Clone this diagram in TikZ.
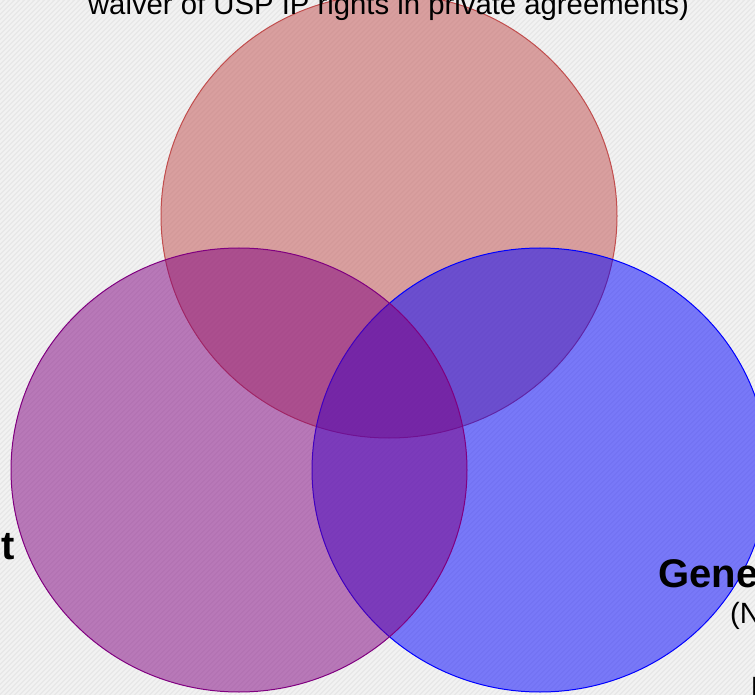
\documentclass[tikz,border=0pt]{standalone}
\usepackage{fontspec}
\setmainfont{Liberation Sans}
\definecolor{bgbase}{RGB}{232,232,232}
\definecolor{bgstripe}{RGB}{242,242,242}
\definecolor{topc}{RGB}{193,77,77}
\definecolor{leftc}{RGB}{128,0,128}
\definecolor{rightc}{RGB}{0,0,255}
\tikzset{
  venn/.style={fill opacity=0.5, draw opacity=1, line width=1pt},
  lbl/.style={inner sep=0pt, text=black, font=\fontsize{29.3}{35}\selectfont},
  blbl/.style={inner sep=0pt, text=black, font=\fontsize{40}{48}\selectfont\bfseries}
}
\begin{document}
\begin{tikzpicture}[x=1pt,y=-1pt]
\useasboundingbox (0,0) rectangle (755,695);
\clip (0,0) rectangle (755,695);
\fill[bgbase] (0,0) rectangle (755,695);
\foreach \k in {-700,-695,...,755} {
  \draw[bgstripe, line width=2pt] (\k,697) -- ({\k+697},0);
}
\draw[venn, draw=topc, fill=topc] (389,216) ellipse[x radius=228, y radius=222];
\draw[venn, draw=rightc, fill=rightc] (540,470) ellipse[x radius=228, y radius=222];
\draw[venn, draw=leftc, fill=leftc] (239,470) ellipse[x radius=228, y radius=222];
\node[lbl, anchor=base] (toptext) at (388.5,15) {waiver of USP IP rights in private agreements)};
\node[blbl, anchor=base east] (lefttext) at (15,559) {t};
\node[blbl, anchor=base west] (righttext) at (658,587) {Gene};
\node[lbl, anchor=base west] (rightsub) at (730,623) {(N};
\node[lbl, anchor=base west] (rightbot) at (750.5,697) {I};
\end{tikzpicture}
\end{document}
